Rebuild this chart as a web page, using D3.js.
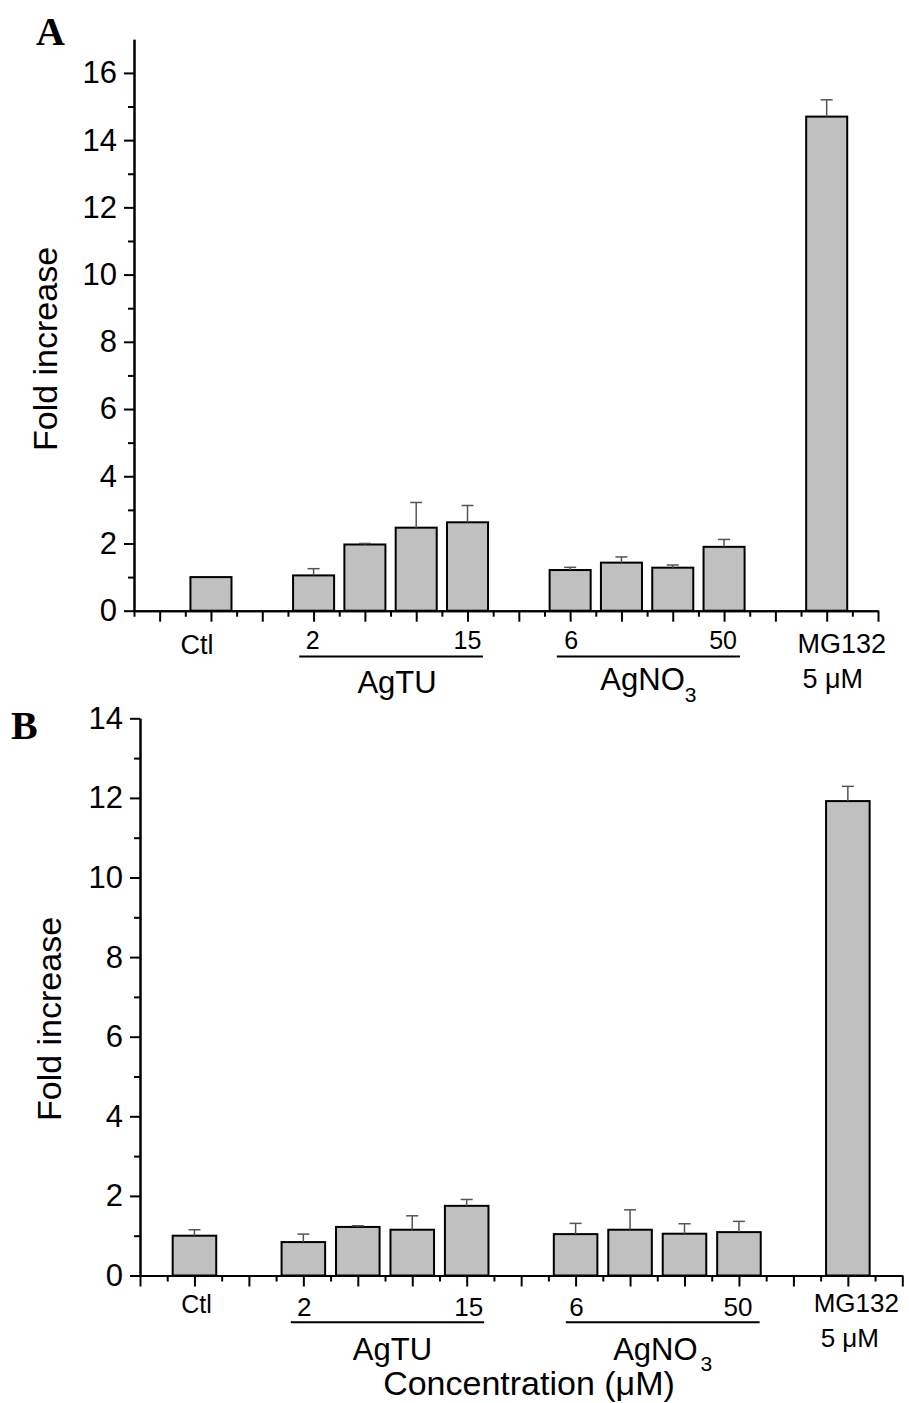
<!DOCTYPE html>
<html>
<head>
<meta charset="utf-8">
<script src="https://cdn.jsdelivr.net/npm/d3@7"></script>
<style>
  body { margin: 0; background: #fff; }
  .container svg text { font-family: "Liberation Sans", Arial, sans-serif; fill: #000; }
  .axis path, .axis line { stroke: #000; stroke-width: 2px; }
  .bar { fill: #c0c0c0; stroke: #000; stroke-width: 2px; }
  .err { stroke: #555; stroke-width: 1.5px; fill: none; }
</style>
</head>
<body>
<div class="container"></div>
<script>
// slot index of each bar on the x axis (gaps at 1, 3, 8, 13)
var positions = [2, 4, 5, 6, 7, 9, 10, 11, 12, 14];
var barNames = ['Ctl', 'AgTU 2', 'AgTU', 'AgTU', 'AgTU 15', 'AgNO3 6', 'AgNO3', 'AgNO3', 'AgNO3 50', 'MG132'];

var meansA = [1.0, 1.05, 1.97, 2.47, 2.63, 1.21, 1.43, 1.28, 1.90, 14.7];
var errA   = [0.0, 0.20, 0.03, 0.75, 0.50, 0.08, 0.17, 0.08, 0.22, 0.50];

var meansB = [1.0, 0.84, 1.22, 1.15, 1.75, 1.04, 1.15, 1.05, 1.09, 11.92];
var errB   = [0.15, 0.20, 0.03, 0.35, 0.16, 0.27, 0.50, 0.25, 0.27, 0.37];

var yTicksA = [0, 2, 4, 6, 8, 10, 12, 14, 16];
var yTicksB = [0, 2, 4, 6, 8, 10, 12, 14];

const WIDTH = 909;
const HEIGHT = 1403;

var translate = function (x, y) {
  return "translate(" + x + "," + y + ")";
};

var svg = d3.select('.container').append('svg')
  .attr('width', WIDTH)
  .attr('height', HEIGHT);

var drawPanel = function (p) {
  var xScale = d3.scaleLinear().domain(p.xDomain).range(p.xRange);
  var yScale = d3.scaleLinear().domain(p.yDomain).range(p.yRange);
  var y0 = yScale(0);
  var g = svg.append('g');

  var rows = p.means.map(function (m, i) {
    return { name: barNames[i], pos: positions[i], mean: m, err: p.err[i] };
  });

  // bars
  g.selectAll('rect.bar')
    .data(rows)
    .enter().append('rect')
    .attr('class', 'bar')
    .attr('x', function (d) { return xScale(d.pos - 0.4); })
    .attr('width', function (d) { return xScale(d.pos + 0.4) - xScale(d.pos - 0.4); })
    .attr('y', function (d) { return yScale(d.mean); })
    .attr('height', function (d) { return y0 - yScale(d.mean); });

  // error bars, upper half only
  var errG = g.selectAll('g.errbar')
    .data(rows.filter(function (d) { return d.err > 0; }))
    .enter().append('g')
    .attr('class', 'errbar');
  errG.append('line')
    .attr('class', 'err')
    .attr('x1', function (d) { return xScale(d.pos); })
    .attr('x2', function (d) { return xScale(d.pos); })
    .attr('y1', function (d) { return yScale(d.mean); })
    .attr('y2', function (d) { return yScale(d.mean + d.err); });
  errG.append('line')
    .attr('class', 'err')
    .attr('x1', function (d) { return xScale(d.pos) - 6; })
    .attr('x2', function (d) { return xScale(d.pos) + 6; })
    .attr('y1', function (d) { return yScale(d.mean + d.err); })
    .attr('y2', function (d) { return yScale(d.mean + d.err); });

  // y axis
  var yAxis = d3.axisLeft(yScale).tickValues(p.yTicks).tickSize(10).tickSizeOuter(0).tickPadding(7);
  var yMinor = d3.axisLeft(yScale).tickValues(p.yTicks.slice(0, -1).map(function (v) { return v + 1; }))
    .tickSize(6).tickSizeOuter(0).tickFormat('');
  var ya = g.append('g').attr('class', 'axis').attr('transform', translate(p.xRange[0], 0)).call(yAxis);
  ya.selectAll('text').style('font-size', '31px');
  g.append('g').attr('class', 'axis').attr('transform', translate(p.xRange[0], 0)).call(yMinor);

  // x axis
  var xAxis = d3.axisBottom(xScale).tickValues(d3.range(1, 16)).tickSize(11).tickSizeOuter(0).tickFormat('');
  var xMinor = d3.axisBottom(xScale).tickValues(d3.range(0.5, 15, 1).filter(function (v) { return v >= p.xDomain[0]; }))
    .tickSize(6).tickSizeOuter(0).tickFormat('');
  g.append('g').attr('class', 'axis').attr('transform', translate(0, y0)).call(xAxis);
  g.append('g').attr('class', 'axis').attr('transform', translate(0, y0)).call(xMinor);

  // category labels
  p.labels.forEach(function (l) {
    g.append('text')
      .attr('x', xScale(l.pos) + l.dx)
      .attr('y', l.y)
      .attr('text-anchor', 'middle')
      .style('font-size', l.size + 'px')
      .text(l.text);
  });

  // group underlines
  p.groups.forEach(function (gr) {
    g.append('line')
      .attr('x1', xScale(gr.from)).attr('x2', xScale(gr.to))
      .attr('y1', gr.lineY).attr('y2', gr.lineY)
      .attr('stroke', '#000').attr('stroke-width', 2);
    var t = g.append('text')
      .attr('x', xScale((gr.from + gr.to) / 2) + gr.dx)
      .attr('y', gr.textY)
      .attr('text-anchor', 'middle')
      .style('font-size', '31px')
      .text(gr.name);
    if (gr.sub) {
      t.append('tspan').attr('dx', gr.subDx).attr('dy', gr.subDy).style('font-size', '21px').text(gr.sub);
    }
  });

  // y title
  g.append('text')
    .attr('transform', translate(p.yTitleX, p.yTitleY) + ' rotate(-90)')
    .attr('text-anchor', 'middle')
    .style('font-size', '34px')
    .text('Fold increase');

  // panel letter
  g.append('text')
    .attr('x', p.letterX).attr('y', p.letterY)
    .style('font-family', '"Liberation Serif", "Times New Roman", serif')
    .style('font-weight', 'bold')
    .style('font-size', '40px')
    .text(p.letter);
};

drawPanel({
  letter: 'A', letterX: 36, letterY: 45,
  means: meansA, err: errA, yTicks: yTicksA,
  xDomain: [0.5, 15], xRange: [134, 878],
  yDomain: [0, 17], yRange: [610.7, 39.3],
  yTitleX: 57, yTitleY: 349,
  labels: [
    { text: 'Ctl', pos: 2, dx: -14, y: 654, size: 27 },
    { text: '2', pos: 4, dx: -1, y: 649, size: 25 },
    { text: '15', pos: 7, dx: 0, y: 649, size: 25 },
    { text: '6', pos: 9, dx: 1, y: 649, size: 25 },
    { text: '50', pos: 12, dx: -1, y: 649, size: 25 },
    { text: 'MG132', pos: 14, dx: 15, y: 653, size: 27 },
    { text: '5 \u03bcM', pos: 14, dx: 6, y: 688, size: 27 }
  ],
  groups: [
    { name: 'AgTU', from: 3.72, to: 7.3, lineY: 656.5, textY: 693, dx: 6 },
    { name: 'AgNO', sub: '3', subDx: 0, subDy: 12, from: 8.74, to: 12.31, lineY: 656.5, textY: 689.5, dx: 0 }
  ]
});

drawPanel({
  letter: 'B', letterX: 11, letterY: 739,
  means: meansB, err: errB, yTicks: yTicksB,
  xDomain: [1, 15], xRange: [140, 902.3],
  yDomain: [0, 14], yRange: [1275.5, 718.3],
  yTitleX: 60.5, yTitleY: 1019,
  labels: [
    { text: 'Ctl', pos: 2, dx: 2, y: 1313, size: 25 },
    { text: '2', pos: 4, dx: 1, y: 1315.5, size: 26 },
    { text: '15', pos: 7, dx: 2, y: 1315.5, size: 26 },
    { text: '6', pos: 9, dx: 1, y: 1315.5, size: 26 },
    { text: '50', pos: 12, dx: -1, y: 1315.5, size: 26 },
    { text: 'MG132', pos: 14, dx: 8.5, y: 1311.7, size: 26 },
    { text: '5 \u03bcM', pos: 14, dx: 2, y: 1346.5, size: 26 }
  ],
  groups: [
    { name: 'AgTU', from: 3.77, to: 7.32, lineY: 1322.3, textY: 1360, dx: 5 },
    { name: 'AgNO', sub: '3', subDx: 3, subDy: 11, from: 8.82, to: 12.38, lineY: 1322.3, textY: 1360, dx: 0 }
  ]
});

// shared x title
svg.append('text')
  .attr('x', 529).attr('y', 1395)
  .attr('text-anchor', 'middle')
  .style('font-size', '34px')
  .text('Concentration (\u03bcM)');
</script>
</body>
</html>
